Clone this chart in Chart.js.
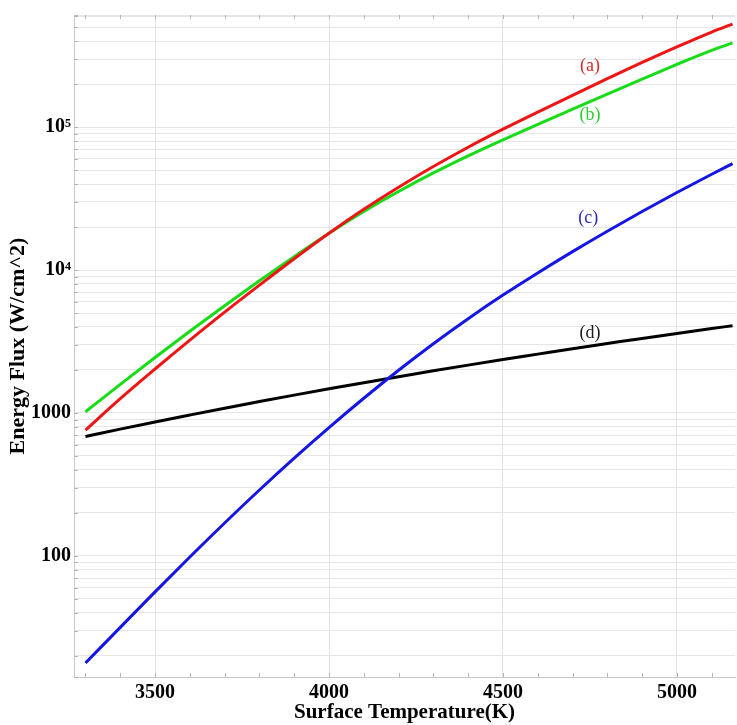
<!DOCTYPE html>
<html>
<head>
<meta charset="utf-8">
<script src="https://cdn.jsdelivr.net/npm/chart.js@4.4.0/dist/chart.umd.min.js"></script>
<style>
    html, body { margin: 0; padding: 0; background: #fff; }
    #wrap { position: relative; width: 737px; height: 725px; }
</style>
</head>
<body>
<div id="wrap"><canvas id="chart-1"></canvas></div>
<script>
// surface temperature (K)
var temperatures = [3300, 3400, 3500, 3600, 3700, 3800, 3900, 4000, 4100, 4200,
    4300, 4400, 4500, 4600, 4700, 4800, 4900, 5000, 5100, 5160];

// energy flux (W/cm^2)
var fluxA = [759, 1259, 2032, 3236, 5082, 7852, 12020, 18110, 26610, 38020,
    53090, 72440, 96830, 127600, 167100, 218800, 283800, 364800, 463400, 527200];
var fluxB = [1021, 1585, 2443, 3733, 5636, 8414, 12420, 18110, 25700, 35480,
    47860, 63100, 81660, 104700, 133700, 170600, 217300, 275400, 345100, 389000];
var fluxC = [17.8, 31.6, 56.0, 98.2, 169.8, 289.1, 483.1, 790.7, 1268, 1991,
    3055, 4571, 6683, 9550, 13460, 18710, 25700, 34910, 46880, 55590];
var fluxD = [684, 771, 865, 968, 1081, 1202, 1334, 1476, 1629, 1795,
    1972, 2163, 2366, 2582, 2818, 3062, 3327, 3606, 3899, 4083];

var seriesNames = ['(a)', '(b)', '(c)', '(d)'];

// y tick labels
var yMajorTicks = [100, 1000, 10000, 100000];
var yMajorLabels = ['100', '1000', '10\u2074', '10\u2075'];
var xLabelStep = 500;

// where the (a)..(d) tags sit, in data units
var tagT = [4750, 4750, 4745, 4750];
var tagFlux = [265000, 121000, 23000, 3600];

var colors = ['#ee1515', '#18dc18', '#1515e6', '#000000'];
var tagColors = ['#d42a2a', '#2ccc2c', '#2a2ab8', '#1a1a1a'];

var yMin = 14.2, yMax = 610000;
var xMin = 3267, xMax = 5167;

(function () {
    function yGrid() {
        var vals = [yMin];
        for (var d = 10; d <= 100000; d *= 10) {
            for (var m = 1; m <= 9; m++) {
                var v = m * d;
                if (v > yMin && v < yMax) vals.push(v);
            }
        }
        vals.push(yMax);
        return vals;
    }

    function xGrid() {
        var vals = [];
        for (var t = 3300; t <= 5100; t += 100) vals.push(t);
        return vals;
    }

    function toPoints(ys) {
        return temperatures.map(function (t, i) { return { x: t, y: ys[i] }; });
    }

    var serif = '"Liberation Serif", "Times New Roman", serif';

    var tagPlugin = {
        id: 'tags',
        afterDatasetsDraw: function (chart) {
            var ctx = chart.ctx, xs = chart.scales.x, ys = chart.scales.y;
            ctx.save();
            ctx.font = '18px ' + serif;
            ctx.textAlign = 'center';
            ctx.textBaseline = 'middle';
            seriesNames.forEach(function (name, i) {
                ctx.fillStyle = tagColors[i];
                ctx.fillText(name, xs.getPixelForValue(tagT[i]), ys.getPixelForValue(tagFlux[i]));
            });
            ctx.restore();
        }
    };

    // small inward tick marks along the frame
    var tickMarks = {
        id: 'tickMarks',
        beforeDatasetsDraw: function (chart) {
            var ctx = chart.ctx, a = chart.chartArea;
            ctx.save();
            ctx.strokeStyle = '#b5b5b5';
            ctx.lineWidth = 1;
            chart.scales.x.ticks.forEach(function (t) {
                var px = Math.round(chart.scales.x.getPixelForValue(t.value)) + 0.5;
                ctx.beginPath();
                ctx.moveTo(px, a.bottom); ctx.lineTo(px, a.bottom - 4);
                ctx.moveTo(px, a.top); ctx.lineTo(px, a.top + 4);
                ctx.stroke();
            });
            chart.scales.y.ticks.forEach(function (t) {
                var py = Math.round(chart.scales.y.getPixelForValue(t.value)) + 0.5;
                ctx.beginPath();
                ctx.moveTo(a.left, py); ctx.lineTo(a.left + 4, py);
                ctx.stroke();
            });
            ctx.restore();
        }
    };

    var lists = [fluxA, fluxB, fluxC, fluxD];

    new Chart(document.getElementById('chart-1'), {
        type: 'line',
        data: {
            datasets: lists.map(function (ys, i) {
                return {
                    label: seriesNames[i],
                    data: toPoints(ys),
                    borderColor: colors[i],
                    borderWidth: 3,
                    pointRadius: 0,
                    cubicInterpolationMode: 'monotone',
                    fill: false
                };
            })
        },
        options: {
            responsive: true,
            maintainAspectRatio: false,
            animation: false,
            layout: { padding: { left: 5, right: 2, top: 10, bottom: 0 } },
            plugins: {
                legend: { display: false },
                tooltip: { enabled: false }
            },
            scales: {
                x: {
                    type: 'linear',
                    min: xMin,
                    max: xMax,
                    afterBuildTicks: function (scale) {
                        scale.ticks = xGrid().map(function (v) { return { value: v }; });
                    },
                    afterFit: function (scale) { scale.height = 48; },
                    ticks: {
                        autoSkip: false,
                        maxRotation: 0,
                        padding: 4,
                        color: '#000',
                        font: { family: serif, size: 20, weight: 'bold' },
                        callback: function (v) { return v % xLabelStep === 0 ? String(v) : ''; }
                    },
                    grid: {
                        drawTicks: false,
                        color: function (c) {
                            return c.tick && c.tick.value % xLabelStep === 0 ? '#e3e3e3' : 'rgba(0,0,0,0)';
                        }
                    },
                    border: { color: '#c8c8c8' },
                    title: {
                        display: true,
                        text: 'Surface Temperature(K)',
                        color: '#000',
                        padding: 0,
                        font: { family: serif, size: 21, weight: 'bold' }
                    }
                },
                y: {
                    type: 'logarithmic',
                    min: yMin,
                    max: yMax,
                    afterBuildTicks: function (scale) {
                        scale.ticks = yGrid().map(function (v) { return { value: v }; });
                    },
                    afterFit: function (scale) { scale.width = 69; },
                    ticks: {
                        autoSkip: false,
                        padding: 3,
                        color: '#000',
                        font: { family: serif, size: 20, weight: 'bold' },
                        callback: function (v) {
                            var k = yMajorTicks.indexOf(v);
                            return k >= 0 ? yMajorLabels[k] : '';
                        }
                    },
                    grid: { drawTicks: false, color: '#e6e6e6' },
                    border: { color: '#c8c8c8' },
                    title: {
                        display: true,
                        text: 'Energy Flux (W/cm^2)',
                        color: '#000',
                        padding: 0,
                        font: { family: serif, size: 22, weight: 'bold' }
                    }
                }
            }
        },
        plugins: [tickMarks, tagPlugin]
    });
})();
</script>
</body>
</html>
